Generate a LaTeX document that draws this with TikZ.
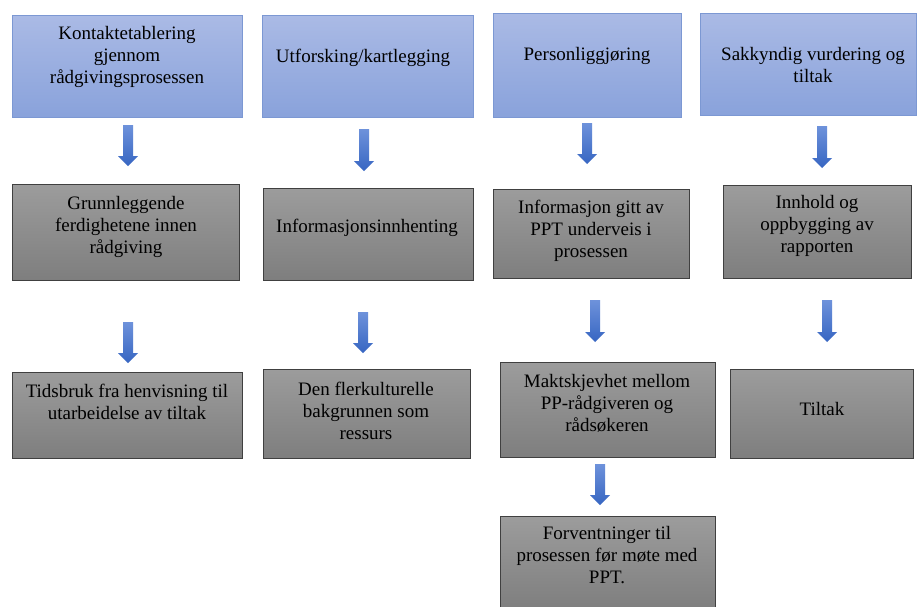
\documentclass[tikz,border=0pt]{standalone}
\usepackage{fontspec}
\setmainfont{Liberation Serif}
\usetikzlibrary{calc}
\definecolor{bluetop}{HTML}{AABAE5}
\definecolor{bluebot}{HTML}{89A2DB}
\definecolor{blueedge}{HTML}{7C98D3}
\definecolor{graytop}{HTML}{9C9C9C}
\definecolor{graybot}{HTML}{7E7E7E}
\definecolor{grayedge}{HTML}{404040}
\definecolor{arrtop}{HTML}{6E92DB}
\definecolor{arrbot}{HTML}{3766C2}
\tikzset{
  box/.style={anchor=north west, inner sep=0pt, line width=0.8pt},
  bluebox/.style={box, draw=blueedge, top color=bluetop, bottom color=bluebot},
  graybox/.style={box, draw=grayedge, top color=graytop, bottom color=graybot},
  txt/.style={anchor=north, inner sep=0pt, align=center, text=black,
              font=\fontsize{19}{22}\selectfont},
  arrsty/.style={top color=arrtop, bottom color=arrbot, draw=none},
}
\newcommand\blockarrowdraw[2]{%
  \shade[arrsty] ($(#1)+(-5,0)$) -- ($(#2)+(-5,-10)$) -- ($(#2)+(-10,-10)$)
    -- (#2) -- ($(#2)+(10,-10)$) -- ($(#2)+(5,-10)$) -- ($(#1)+(5,0)$) -- cycle;}
\begin{document}
\begin{tikzpicture}[x=1pt,y=-1pt]
\useasboundingbox[fill=white] (0,0) rectangle (917,606);
% row 1
\node[bluebox, minimum width=230pt, minimum height=102pt] (r1c1) at (12,15) {};
\node[bluebox, minimum width=211pt, minimum height=102pt] (r1c2) at (262,15) {};
\node[bluebox, minimum width=188pt, minimum height=104pt] (r1c3) at (493,13) {};
\node[bluebox, minimum width=216pt, minimum height=102pt] (r1c4) at (700,13) {};
\node[txt] (t11) at (127,26) {Kontaktetablering\\gjennom\\rådgivingsprosessen};
\node[txt] (t12) at (363,49) {Utforsking/kartlegging};
\node[txt] (t13) at (587,47) {Personliggjøring};
\node[txt] (t14) at (813,47) {Sakkyndig vurdering og\\tiltak};
% row 2
\node[graybox, minimum width=227pt, minimum height=96pt] (r2c1) at (12,184) {};
\node[graybox, minimum width=210pt, minimum height=92pt] (r2c2) at (263,188) {};
\node[graybox, minimum width=196pt, minimum height=89pt] (r2c3) at (493,189) {};
\node[graybox, minimum width=188pt, minimum height=93pt] (r2c4) at (723,185) {};
\node[txt] (t21) at (126,196) {Grunnleggende\\ferdighetene innen\\rådgiving};
\node[txt] (t22) at (367,219) {Informasjonsinnhenting};
\node[txt] (t23) at (591,200) {Informasjon gitt av\\PPT underveis i\\prosessen};
\node[txt] (t24) at (817,195) {Innhold og\\oppbygging av\\rapporten};
% row 3
\node[graybox, minimum width=230pt, minimum height=86pt] (r3c1) at (12,372) {};
\node[graybox, minimum width=207pt, minimum height=89pt] (r3c2) at (263,369) {};
\node[graybox, minimum width=215pt, minimum height=95pt] (r3c3) at (500,362) {};
\node[graybox, minimum width=183pt, minimum height=89pt] (r3c4) at (730,369) {};
\node[txt] (t31) at (127,384) {Tidsbruk fra henvisning til\\utarbeidelse av tiltak};
\node[txt] (t32) at (366,382) {Den flerkulturelle\\bakgrunnen som\\ressurs};
\node[txt] (t33) at (607,374) {Maktskjevhet mellom\\PP-rådgiveren og\\rådsøkeren};
\node[txt] (t34) at (822,402) {Tiltak};
% row 4
\node[graybox, minimum width=215pt, minimum height=94pt] (r4c3) at (500,516) {};
\node[txt] (t43) at (607,526) {Forventninger til\\prosessen før møte med\\PPT.};
% arrow end points
\coordinate (a1s) at (128,125); \coordinate (a1e) at (128,166);
\coordinate (a2s) at (364,129); \coordinate (a2e) at (364,171);
\coordinate (a3s) at (587,123); \coordinate (a3e) at (587,164);
\coordinate (a4s) at (822,126); \coordinate (a4e) at (822,168);
\coordinate (b1s) at (128,322); \coordinate (b1e) at (128,363);
\coordinate (b2s) at (363,312); \coordinate (b2e) at (363,353);
\coordinate (b3s) at (595,300); \coordinate (b3e) at (595,342);
\coordinate (b4s) at (827,300); \coordinate (b4e) at (827,342);
\coordinate (c3s) at (600,464); \coordinate (c3e) at (600,505);
\blockarrowdraw{a1s}{a1e}
\blockarrowdraw{a2s}{a2e}
\blockarrowdraw{a3s}{a3e}
\blockarrowdraw{a4s}{a4e}
\blockarrowdraw{b1s}{b1e}
\blockarrowdraw{b2s}{b2e}
\blockarrowdraw{b3s}{b3e}
\blockarrowdraw{b4s}{b4e}
\blockarrowdraw{c3s}{c3e}
\end{tikzpicture}
\end{document}
